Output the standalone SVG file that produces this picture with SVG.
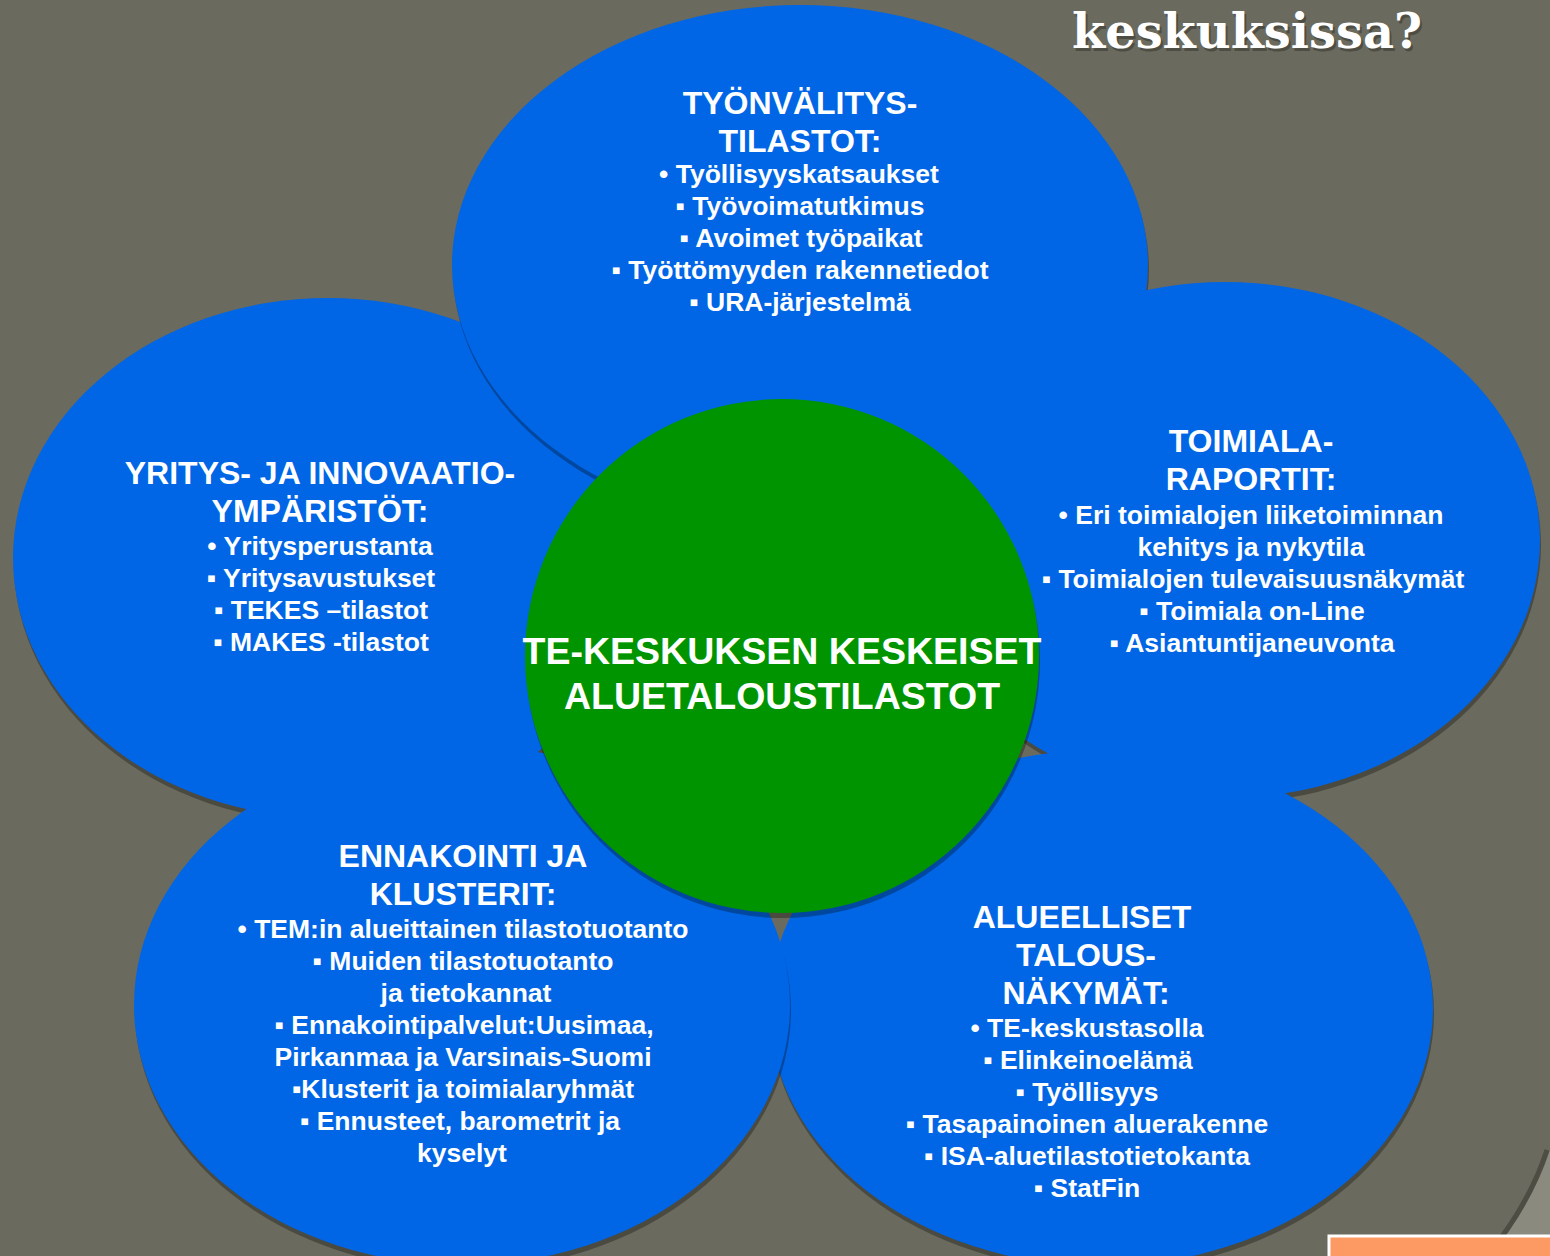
<svg xmlns="http://www.w3.org/2000/svg" width="1550" height="1256" viewBox="0 0 1550 1256">
<defs>
<style>
.bg{fill:#6a6a5e}
.petal{fill:#0066e6}
.center{fill:#009400}
.sh{fill:#000;fill-opacity:0.3}
.h{font-family:"Liberation Sans",Arial,sans-serif;font-weight:bold;font-size:32px;fill:#fff;text-anchor:middle}
.b{font-family:"Liberation Sans",Arial,"DejaVu Sans",sans-serif;font-weight:bold;font-size:26.5px;fill:#fff;text-anchor:middle}
.c{font-family:"Liberation Sans",Arial,sans-serif;font-weight:bold;font-size:37.5px;fill:#fff;text-anchor:middle}
.title{font-family:"DejaVu Serif",serif;font-weight:bold;font-size:48px}
</style>
</defs>
<rect class="bg" x="0" y="0" width="1550" height="1256"/>
<g id="corner-swoosh">
<path d="M1550,1150 Q1532,1205 1490,1256 L1550,1256 Z" fill="#8a8a7e"/>
<path d="M1550,1150 Q1532,1205 1490,1256" fill="none" stroke="#4d4d43" stroke-width="5" transform="translate(-3,0)"/>
<rect x="1329" y="1236" width="230" height="30" fill="#fd9a63" stroke="#ffffff" stroke-width="3"/>
</g>
<g id="title">
<text class="title" x="1074" y="51" fill="#3a3a33" fill-opacity="0.6" textLength="350" lengthAdjust="spacingAndGlyphs">keskuksissa?</text>
<text class="title" x="1072" y="48" fill="#ffffff" textLength="350" lengthAdjust="spacingAndGlyphs">keskuksissa?</text>
</g>
<g id="connectors"></g>
<g id="node-left">
<ellipse class="sh" cx="329" cy="563" rx="315" ry="260"/>
<ellipse class="petal" cx="328" cy="558" rx="315" ry="260"/>
<text class="h" x="320" y="484">YRITYS- JA INNOVAATIO-</text>
<text class="h" x="320" y="522">YMPÄRISTÖT:</text>
<text class="b" x="320" y="555">• Yritysperustanta</text>
<text class="b" x="321" y="587">▪ Yritysavustukset</text>
<text class="b" x="321" y="619">▪ TEKES –tilastot</text>
<text class="b" x="321" y="651">▪ MAKES -tilastot</text>
</g>
<g id="node-top">
<ellipse class="sh" cx="801" cy="270" rx="348" ry="260"/>
<ellipse class="petal" cx="800" cy="265" rx="348" ry="260"/>
<text class="h" x="800" y="114">TYÖNVÄLITYS-</text>
<text class="h" x="800" y="152">TILASTOT:</text>
<text class="b" x="799" y="183">• Työllisyyskatsaukset</text>
<text class="b" x="800" y="215">▪ Työvoimatutkimus</text>
<text class="b" x="801" y="247">▪ Avoimet työpaikat</text>
<text class="b" x="800" y="279">▪ Työttömyyden rakennetiedot</text>
<text class="b" x="800" y="311">▪ URA-järjestelmä</text>
</g>
<g id="node-right">
<ellipse class="sh" cx="1226" cy="545" rx="315" ry="258"/>
<ellipse class="petal" cx="1225" cy="540" rx="315" ry="258"/>
<text class="h" x="1251" y="452">TOIMIALA-</text>
<text class="h" x="1251" y="490">RAPORTIT:</text>
<text class="b" x="1251" y="524">• Eri toimialojen liiketoiminnan</text>
<text class="b" x="1251" y="556">kehitys ja nykytila</text>
<text class="b" x="1253" y="588">▪ Toimialojen tulevaisuusnäkymät</text>
<text class="b" x="1252" y="620">▪ Toimiala on-Line</text>
<text class="b" x="1252" y="652">▪ Asiantuntijaneuvonta</text>
</g>
<g id="node-bottom-right">
<ellipse class="sh" cx="1102" cy="1013" rx="332" ry="258"/>
<ellipse class="petal" cx="1101" cy="1008" rx="332" ry="258"/>
<text class="h" x="1082" y="928">ALUEELLISET</text>
<text class="h" x="1086" y="966">TALOUS-</text>
<text class="h" x="1086" y="1004">NÄKYMÄT:</text>
<text class="b" x="1087" y="1037">• TE-keskustasolla</text>
<text class="b" x="1088" y="1069">▪ Elinkeinoelämä</text>
<text class="b" x="1087" y="1101">▪ Työllisyys</text>
<text class="b" x="1087" y="1133">▪ Tasapainoinen aluerakenne</text>
<text class="b" x="1087" y="1165">▪ ISA-aluetilastotietokanta</text>
<text class="b" x="1087" y="1197">▪ StatFin</text>
</g>
<g id="node-bottom-left">
<ellipse class="sh" cx="463" cy="1010" rx="328" ry="260"/>
<ellipse class="petal" cx="462" cy="1005" rx="328" ry="260"/>
<text class="h" x="463" y="867">ENNAKOINTI JA</text>
<text class="h" x="463" y="905">KLUSTERIT:</text>
<text class="b" x="463" y="938">• TEM:in alueittainen tilastotuotanto</text>
<text class="b" x="463" y="970">▪ Muiden tilastotuotanto</text>
<text class="b" x="466" y="1002">ja tietokannat</text>
<text class="b" x="464" y="1034">▪ Ennakointipalvelut:Uusimaa,</text>
<text class="b" x="463" y="1066">Pirkanmaa ja Varsinais-Suomi</text>
<text class="b" x="463" y="1098">▪Klusterit ja toimialaryhmät</text>
<text class="b" x="460" y="1130">▪ Ennusteet, barometrit ja</text>
<text class="b" x="462" y="1162">kyselyt</text>
</g>
<g id="node-center">
<circle class="sh" cx="783" cy="661" r="257"/>
<circle class="center" cx="782" cy="656" r="257"/>
<text class="c" x="782" y="664">TE-KESKUKSEN KESKEISET</text>
<text class="c" x="782" y="709">ALUETALOUSTILASTOT</text>
</g>
</svg>
